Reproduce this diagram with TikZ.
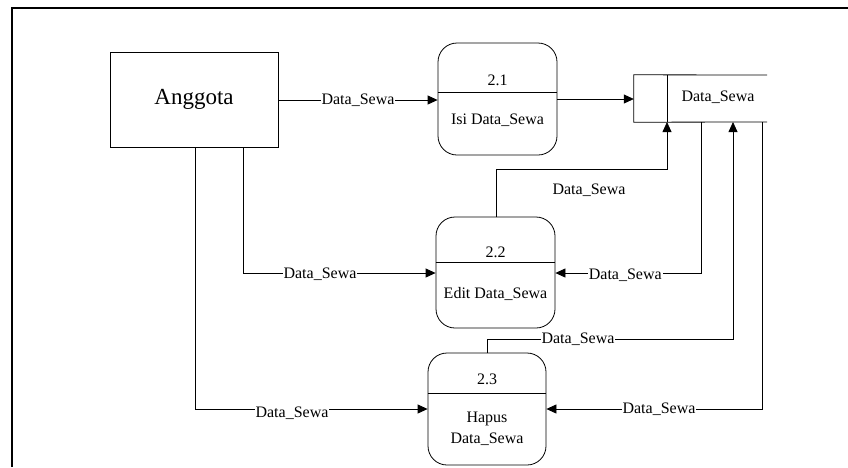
\documentclass[tikz,border=0pt]{standalone}
\usepackage{fontspec}
\setmainfont{Liberation Serif}
\usetikzlibrary{arrows.meta}
\tikzset{
  proc/.style={draw, rounded corners=19pt, minimum width=119pt, minimum height=112pt, inner sep=0pt, line width=0.8pt},
  ent/.style={draw, minimum width=168pt, minimum height=95pt, inner sep=0pt, line width=0.8pt, font=\fontsize{23}{27}\selectfont},
  txt/.style={inner sep=0pt, font=\fontsize{16}{19}\selectfont, align=center},
  lbl/.style={fill=white, inner sep=1pt, font=\fontsize{16}{19}\selectfont},
  flow/.style={line width=0.8pt, -{Triangle[length=10pt,width=9pt]}},
  plain/.style={line width=0.8pt},
}
\begin{document}
\begin{tikzpicture}[x=1pt,y=-1pt]
\useasboundingbox (0,0) rectangle (848,467);
% frame
\draw[line width=2pt] (12,467) -- (12,7.5) -- (848,7.5);
% entity
\node[ent] (ang) at (194,99.5) {Anggota};
% processes
\node[proc] (p1) at (497.5,99) {};
\node[proc, minimum height=111pt] (p2) at (495.5,272.5) {};
\node[proc, minimum width=118pt] (p3) at (487,409) {};
\draw[plain] (p1.west |- 0,92) -- (p1.east |- 0,92);
\draw[plain] (p2.west |- 0,262) -- (p2.east |- 0,262);
\draw[plain] (p3.west |- 0,393) -- (p3.east |- 0,393);
\node[txt] (p1n) at (497.5,80) {2.1};
\node[txt] (p1t) at (497.5,120) {Isi Data\_Sewa};
\node[txt] (p2n) at (495.5,252) {2.2};
\node[txt] (p2t) at (495.5,294) {Edit Data\_Sewa};
\node[txt] (p3n) at (487,379) {2.3};
\node[txt] (p3t) at (487,429) {Hapus\\[2pt]Data\_Sewa};
% data store
\node[minimum width=133pt, minimum height=47pt, inner sep=0pt] (store) at (700.5,98.5) {};
\draw[plain] (767,75) -- (store.north west) -- (store.south west) -- (767,122);
\draw[plain] (667,75) -- (667,122);
\node[txt] (storet) at (718,97) {Data\_Sewa};
% coordinates
\coordinate (s1) at (667,122);
\coordinate (s2) at (701,122);
\coordinate (s3) at (733,122);
\coordinate (s4) at (762,122);
\coordinate (a2) at (243,147);
\coordinate (a3) at (195,147);
\coordinate (t2) at (496,217);
\coordinate (t3) at (487,353);
% flows
\draw[flow] (ang.east |- 0,100) -- (p1.west |- 0,100) node[lbl, pos=0.5] {Data\_Sewa};
\draw[flow] (p1.east |- 0,99) -- (store.west |- 0,99);
\draw[flow] (t2) -- (496,169) -- (667,169) -- (s1);
\node[txt] (l3) at (589,190) {Data\_Sewa};
\draw[flow] (s2) -- (701,273) -- (p2.east |- 0,273) node[lbl, pos=0.52, yshift=-2pt] {Data\_Sewa};
\draw[flow] (a2) -- (243,273) -- (p2.west |- 0,273);
\node[lbl, yshift=-1pt] (l5) at (320,273) {Data\_Sewa};
\draw[flow] (t3) -- (487,339) -- (733,339) -- (s3);
\node[lbl] (l6) at (578,339) {Data\_Sewa};
\draw[flow] (s4) -- (762,409) -- (p3.east |- 0,409);
\node[lbl] (l7) at (659,409) {Data\_Sewa};
\draw[flow] (a3) -- (195,409) -- (p3.west |- 0,409);
\node[lbl, yshift=-2pt] (l8) at (292,411) {Data\_Sewa};
\end{tikzpicture}
\end{document}
